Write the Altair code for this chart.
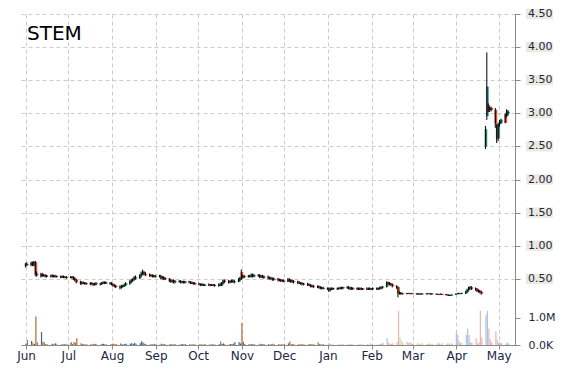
import altair as alt
import numpy as np
import pandas as pd

ticker = "STEM"
first_day = "2023-06-01"
last_day = "2024-05-08"

# one row per week (Mon-Fri), prices in $
opens = [
    0.70, 0.72,
    0.71, 0.74, 0.71, 0.75, 0.57,
    0.54, 0.57, 0.55, 0.55, 0.54,
    0.54, 0.54, 0.55, 0.53, 0.54,
    0.53, 0.53, 0.52, 0.53, 0.52,
    0.52, 0.53, 0.52, 0.50, 0.48,
    0.45, 0.43, 0.44, 0.43, 0.43,
    0.42, 0.43, 0.42, 0.41, 0.43,
    0.42, 0.42, 0.44, 0.45, 0.44,
    0.43, 0.43, 0.41, 0.40, 0.39,
    0.38, 0.37, 0.39, 0.39, 0.41,
    0.43, 0.46, 0.48, 0.49, 0.52,
    0.51, 0.55, 0.58, 0.60, 0.57,
    0.56, 0.55, 0.54, 0.55, 0.53,
    0.54, 0.54, 0.51, 0.52, 0.50,
    0.50, 0.47, 0.46, 0.47, 0.45,
    0.46, 0.46, 0.45, 0.46, 0.44,
    0.46, 0.45, 0.44, 0.43, 0.43,
    0.42, 0.42, 0.41, 0.41, 0.40,
    0.41, 0.41, 0.40, 0.41, 0.40,
    0.40, 0.41, 0.40, 0.43, 0.47,
    0.46, 0.45, 0.46, 0.47, 0.45,
    0.46, 0.49, 0.60, 0.52, 0.54,
    0.53, 0.54, 0.54, 0.56, 0.54,
    0.55, 0.55, 0.53, 0.54, 0.52,
    0.53, 0.51, 0.51, 0.50, 0.49,
    0.50, 0.48, 0.48, 0.47, 0.47,
    0.46, 0.49, 0.47, 0.47, 0.45,
    0.46, 0.44, 0.43, 0.43, 0.42,
    0.42, 0.41, 0.40, 0.39, 0.39,
    0.38, 0.38, 0.37, 0.36, 0.36,
    0.35, 0.35, 0.33, 0.35, 0.35,
    0.35, 0.35, 0.36, 0.36, 0.37,
    0.36, 0.37, 0.36, 0.35, 0.36,
    0.35, 0.35, 0.34, 0.35, 0.35,
    0.34, 0.35, 0.35, 0.34, 0.35,
    0.35, 0.35, 0.35, 0.36, 0.37,
    0.38, 0.44, 0.43, 0.42, 0.41,
    0.39, 0.37, 0.28, 0.28, 0.28,
    0.27, 0.28, 0.28, 0.27, 0.28,
    0.27, 0.27, 0.27, 0.27, 0.27,
    0.27, 0.27, 0.28, 0.27, 0.27,
    0.27, 0.27, 0.26, 0.27, 0.27,
    0.26, 0.26, 0.25, 0.25, 0.25,
    0.26, 0.27, 0.28, 0.27, 0.28,
    0.28, 0.30, 0.33, 0.36, 0.37,
    0.35, 0.34, 0.32, 0.31, 0.30,
    2.50, 2.96, 3.12, 3.06, 3.08,
    3.05, 2.82, 2.62, 2.84, 2.86,
    2.98, 2.96, 3.00,
]
highs = [
    0.74, 0.75,
    0.76, 0.76, 0.77, 0.77, 0.61,
    0.59, 0.59, 0.57, 0.57, 0.56,
    0.56, 0.57, 0.56, 0.56, 0.55,
    0.55, 0.55, 0.55, 0.54, 0.54,
    0.54, 0.54, 0.54, 0.52, 0.50,
    0.47, 0.46, 0.46, 0.45, 0.45,
    0.45, 0.45, 0.44, 0.44, 0.45,
    0.44, 0.45, 0.46, 0.46, 0.46,
    0.45, 0.45, 0.43, 0.42, 0.41,
    0.40, 0.41, 0.41, 0.43, 0.45,
    0.48, 0.50, 0.51, 0.54, 0.55,
    0.57, 0.61, 0.64, 0.62, 0.60,
    0.58, 0.57, 0.57, 0.56, 0.56,
    0.56, 0.56, 0.54, 0.54, 0.52,
    0.51, 0.49, 0.49, 0.49, 0.48,
    0.48, 0.48, 0.47, 0.47, 0.47,
    0.47, 0.46, 0.46, 0.45, 0.45,
    0.44, 0.43, 0.43, 0.43, 0.42,
    0.43, 0.42, 0.42, 0.42, 0.42,
    0.43, 0.44, 0.45, 0.49, 0.49,
    0.48, 0.48, 0.49, 0.49, 0.48,
    0.51, 0.53, 0.64, 0.56, 0.56,
    0.56, 0.56, 0.58, 0.58, 0.57,
    0.57, 0.57, 0.56, 0.56, 0.55,
    0.55, 0.53, 0.53, 0.52, 0.52,
    0.51, 0.50, 0.50, 0.49, 0.49,
    0.51, 0.51, 0.49, 0.49, 0.48,
    0.47, 0.46, 0.45, 0.45, 0.44,
    0.44, 0.43, 0.42, 0.41, 0.41,
    0.40, 0.40, 0.39, 0.38, 0.38,
    0.37, 0.37, 0.37, 0.37, 0.37,
    0.37, 0.37, 0.38, 0.38, 0.38,
    0.39, 0.39, 0.38, 0.38, 0.37,
    0.37, 0.37, 0.37, 0.37, 0.36,
    0.37, 0.37, 0.37, 0.36, 0.37,
    0.37, 0.37, 0.38, 0.39, 0.39,
    0.46, 0.46, 0.45, 0.44, 0.43,
    0.40, 0.38, 0.31, 0.30, 0.29,
    0.28, 0.28, 0.28, 0.28, 0.28,
    0.28, 0.28, 0.28, 0.27, 0.28,
    0.28, 0.28, 0.28, 0.27, 0.28,
    0.27, 0.27, 0.27, 0.27, 0.27,
    0.27, 0.26, 0.26, 0.26, 0.26,
    0.28, 0.28, 0.29, 0.28, 0.28,
    0.32, 0.35, 0.38, 0.39, 0.39,
    0.37, 0.36, 0.34, 0.33, 0.32,
    2.81, 3.92, 3.15, 3.10, 3.10,
    3.08, 2.84, 2.86, 2.90, 2.92,
    3.00, 3.06, 3.05,
]
lows = [
    0.67, 0.69,
    0.69, 0.69, 0.69, 0.54, 0.53,
    0.52, 0.53, 0.53, 0.52, 0.52,
    0.52, 0.52, 0.52, 0.52, 0.52,
    0.51, 0.51, 0.51, 0.51, 0.50,
    0.51, 0.50, 0.48, 0.46, 0.43,
    0.41, 0.41, 0.42, 0.41, 0.41,
    0.40, 0.41, 0.39, 0.40, 0.40,
    0.40, 0.41, 0.42, 0.42, 0.42,
    0.41, 0.40, 0.38, 0.37, 0.36,
    0.34, 0.35, 0.37, 0.38, 0.39,
    0.41, 0.44, 0.45, 0.47, 0.49,
    0.50, 0.53, 0.56, 0.55, 0.54,
    0.53, 0.53, 0.52, 0.52, 0.52,
    0.52, 0.49, 0.49, 0.48, 0.48,
    0.45, 0.44, 0.44, 0.43, 0.43,
    0.44, 0.43, 0.43, 0.43, 0.43,
    0.43, 0.42, 0.42, 0.41, 0.41,
    0.40, 0.39, 0.39, 0.39, 0.39,
    0.39, 0.39, 0.39, 0.39, 0.38,
    0.38, 0.39, 0.39, 0.42, 0.44,
    0.43, 0.43, 0.44, 0.44, 0.43,
    0.45, 0.46, 0.48, 0.50, 0.51,
    0.52, 0.52, 0.52, 0.52, 0.52,
    0.53, 0.51, 0.51, 0.51, 0.50,
    0.49, 0.49, 0.48, 0.47, 0.47,
    0.46, 0.46, 0.45, 0.45, 0.45,
    0.45, 0.45, 0.44, 0.44, 0.43,
    0.42, 0.42, 0.41, 0.40, 0.40,
    0.39, 0.39, 0.37, 0.37, 0.36,
    0.36, 0.35, 0.34, 0.34, 0.34,
    0.33, 0.30, 0.31, 0.33, 0.33,
    0.33, 0.34, 0.34, 0.34, 0.34,
    0.35, 0.34, 0.33, 0.33, 0.33,
    0.33, 0.33, 0.33, 0.33, 0.33,
    0.33, 0.33, 0.33, 0.33, 0.33,
    0.33, 0.33, 0.34, 0.34, 0.35,
    0.37, 0.41, 0.40, 0.39, 0.37,
    0.35, 0.22, 0.26, 0.26, 0.26,
    0.27, 0.27, 0.27, 0.27, 0.27,
    0.27, 0.26, 0.27, 0.26, 0.27,
    0.27, 0.27, 0.27, 0.26, 0.27,
    0.26, 0.26, 0.26, 0.26, 0.26,
    0.25, 0.25, 0.24, 0.24, 0.25,
    0.26, 0.27, 0.27, 0.27, 0.27,
    0.27, 0.29, 0.32, 0.34, 0.33,
    0.32, 0.30, 0.29, 0.28, 0.26,
    2.46, 2.90, 3.02, 3.02, 3.03,
    2.78, 2.55, 2.58, 2.80, 2.84,
    2.85, 2.94, 2.97,
]
closes = [
    0.72, 0.71,
    0.74, 0.71, 0.75, 0.57, 0.56,
    0.57, 0.55, 0.55, 0.54, 0.54,
    0.54, 0.55, 0.53, 0.54, 0.53,
    0.53, 0.52, 0.53, 0.52, 0.52,
    0.53, 0.52, 0.50, 0.48, 0.45,
    0.43, 0.44, 0.43, 0.43, 0.42,
    0.43, 0.42, 0.41, 0.43, 0.42,
    0.42, 0.44, 0.45, 0.44, 0.43,
    0.43, 0.41, 0.40, 0.39, 0.38,
    0.37, 0.39, 0.39, 0.41, 0.43,
    0.46, 0.48, 0.49, 0.52, 0.51,
    0.55, 0.58, 0.60, 0.57, 0.56,
    0.55, 0.54, 0.55, 0.53, 0.54,
    0.54, 0.51, 0.52, 0.50, 0.50,
    0.47, 0.46, 0.47, 0.45, 0.46,
    0.46, 0.45, 0.46, 0.44, 0.46,
    0.45, 0.44, 0.43, 0.43, 0.42,
    0.42, 0.41, 0.41, 0.40, 0.41,
    0.41, 0.40, 0.41, 0.40, 0.40,
    0.41, 0.40, 0.43, 0.47, 0.46,
    0.45, 0.46, 0.47, 0.45, 0.46,
    0.49, 0.51, 0.52, 0.54, 0.53,
    0.54, 0.54, 0.56, 0.54, 0.55,
    0.55, 0.53, 0.54, 0.52, 0.53,
    0.51, 0.51, 0.50, 0.49, 0.50,
    0.48, 0.48, 0.47, 0.47, 0.46,
    0.49, 0.47, 0.47, 0.45, 0.46,
    0.44, 0.43, 0.43, 0.42, 0.42,
    0.41, 0.40, 0.39, 0.39, 0.38,
    0.38, 0.37, 0.36, 0.36, 0.35,
    0.35, 0.33, 0.35, 0.35, 0.35,
    0.35, 0.36, 0.36, 0.37, 0.36,
    0.37, 0.36, 0.35, 0.36, 0.35,
    0.35, 0.34, 0.35, 0.35, 0.34,
    0.35, 0.35, 0.34, 0.35, 0.35,
    0.35, 0.35, 0.36, 0.37, 0.38,
    0.44, 0.43, 0.42, 0.41, 0.39,
    0.37, 0.28, 0.28, 0.28, 0.27,
    0.28, 0.28, 0.27, 0.28, 0.27,
    0.27, 0.27, 0.27, 0.27, 0.27,
    0.27, 0.28, 0.27, 0.27, 0.27,
    0.27, 0.26, 0.27, 0.27, 0.26,
    0.26, 0.25, 0.25, 0.25, 0.26,
    0.27, 0.28, 0.27, 0.28, 0.28,
    0.30, 0.33, 0.36, 0.37, 0.35,
    0.34, 0.32, 0.31, 0.30, 0.28,
    2.76, 3.40, 3.06, 3.08, 3.05,
    2.85, 2.62, 2.84, 2.86, 2.90,
    2.86, 3.03, 3.02,
]
# daily volume, millions of shares
volumes_m = [
    0.05, 0.18,
    0.15, 0.06, 0.04, 1.04, 0.10,
    0.47, 0.12, 0.10, 0.04, 0.03,
    0.02, 0.05, 0.03, 0.06, 0.02,
    0.03, 0.02, 0.04, 0.02, 0.03,
    0.10, 0.04, 0.11, 0.08, 0.25,
    0.06, 0.03, 0.04, 0.02, 0.03,
    0.03, 0.02, 0.05, 0.04, 0.02,
    0.02, 0.04, 0.05, 0.03, 0.02,
    0.03, 0.04, 0.05, 0.03, 0.04,
    0.06, 0.03, 0.02, 0.04, 0.05,
    0.05, 0.06, 0.04, 0.08, 0.05,
    0.06, 0.14, 0.08, 0.05, 0.04,
    0.03, 0.02, 0.03, 0.04, 0.02,
    0.02, 0.05, 0.03, 0.04, 0.02,
    0.04, 0.03, 0.02, 0.03, 0.02,
    0.02, 0.03, 0.04, 0.02, 0.03,
    0.03, 0.02, 0.02, 0.03, 0.02,
    0.02, 0.03, 0.02, 0.02, 0.03,
    0.02, 0.02, 0.03, 0.02, 0.02,
    0.03, 0.13, 0.04, 0.06, 0.03,
    0.02, 0.04, 0.03, 0.05, 0.10,
    0.10, 0.06, 0.80, 0.12, 0.04,
    0.03, 0.02, 0.04, 0.03, 0.02,
    0.02, 0.05, 0.03, 0.04, 0.02,
    0.04, 0.02, 0.03, 0.05, 0.02,
    0.03, 0.02, 0.03, 0.02, 0.04,
    0.06, 0.13, 0.03, 0.04, 0.02,
    0.03, 0.02, 0.04, 0.02, 0.03,
    0.02, 0.03, 0.04, 0.02, 0.03,
    0.10, 0.04, 0.03, 0.02, 0.03,
    0.02, 0.06, 0.04, 0.03, 0.02,
    0.02, 0.03, 0.02, 0.04, 0.02,
    0.03, 0.02, 0.04, 0.03, 0.02,
    0.02, 0.03, 0.02, 0.03, 0.02,
    0.03, 0.02, 0.06, 0.03, 0.02,
    0.02, 0.03, 0.04, 0.05, 0.08,
    0.25, 0.08, 0.05, 0.04, 0.06,
    0.10, 1.25, 0.28, 0.17, 0.08,
    0.12, 0.08, 0.10, 0.06, 0.05,
    0.05, 0.07, 0.04, 0.06, 0.05,
    0.04, 0.05, 0.06, 0.04, 0.05,
    0.03, 0.08, 0.05, 0.04, 0.06,
    0.05, 0.06, 0.04, 0.07, 0.05,
    0.47, 0.37, 0.15, 0.06, 0.08,
    0.37, 0.60, 0.37, 0.10, 0.08,
    0.25, 0.06, 0.10, 1.25, 0.28,
    1.10, 1.25, 0.60, 0.20, 0.10,
    0.50, 0.18, 0.08, 0.10, 0.06,
    0.05, 0.08, 0.06,
]

price_ticks = [0.5, 1.0, 1.5, 2.0, 2.5, 3.0, 3.5, 4.0, 4.5]
volume_ticks = [0, 1]
month_ticks = [(2023, 6), (2023, 7), (2023, 8), (2023, 9), (2023, 10), (2023, 11),
               (2023, 12), (2024, 1), (2024, 2), (2024, 3), (2024, 4), (2024, 5)]
pale_from = "2024-01-01"

dates = pd.bdate_range(first_day, last_day)
n = len(dates)
assert n == len(opens) == len(highs) == len(lows) == len(closes) == len(volumes_m), (
    n, len(opens), len(highs), len(lows), len(closes), len(volumes_m))

df = pd.DataFrame({"date": dates, "open": opens, "high": highs, "low": lows,
                   "close": closes, "vol": volumes_m})
df["dir"] = np.where(df["close"] > df["open"], "up",
                     np.where(df["close"] < df["open"], "down", "flat"))
df["era"] = np.where(df["date"] >= pd.Timestamp(pale_from), "pale", "dark")
df["vcls"] = df["era"] + "-" + df["dir"]

price_df = pd.DataFrame({"p": price_ticks, "label": [f"{v:.2f}" for v in price_ticks]})

W, H = 494, 331
LABEL_FONT = "DejaVu Sans"
LABEL_COLOR = "#1b2645"
AXIS_GRAY = "#8a8a8a"
GRID = "#cccccc"

x_scale = alt.Scale(domain=[alt.DateTime(year=2023, month=6, date=1),
                            alt.DateTime(year=2024, month=5, date=9)])
price_scale = alt.Scale(domain=[-0.5, 4.5], nice=False, zero=False)
vol_scale = alt.Scale(domain=[0, 12.1], nice=False)

x_axis = alt.Axis(values=[alt.DateTime(year=y, month=m, date=1) for y, m in month_ticks],
                  format="%b", grid=True, gridDash=[4, 3], gridColor=GRID,
                  tickSize=4, tickColor=AXIS_GRAY, domainColor=AXIS_GRAY,
                  labelFlush=False, labelFont=LABEL_FONT, labelFontSize=12,
                  labelColor=LABEL_COLOR, labelPadding=1, title=None)
price_axis = alt.Axis(orient="right", values=price_ticks, labels=False, grid=True,
                      gridDash=[4, 3], gridColor=GRID, tickSize=5,
                      tickColor=AXIS_GRAY, domainColor=AXIS_GRAY, title=None)
vol_axis = alt.Axis(orient="right", values=volume_ticks, grid=False, tickSize=5,
                    tickColor=AXIS_GRAY, domainColor=AXIS_GRAY,
                    labelExpr="datum.value >= 1 ? format(datum.value, '.1f') + 'M' : format(datum.value * 1000, '.1f') + 'K'",
                    labelFont=LABEL_FONT, labelFontSize=11, labelColor=LABEL_COLOR,
                    labelPadding=8, title=None)

candle_colors = alt.Scale(domain=["up", "down", "flat"], range=["#0fb052", "#e8141c", "#000000"])
vol_colors = alt.Scale(
    domain=["dark-up", "dark-down", "dark-flat", "pale-up", "pale-down", "pale-flat"],
    range=["#3f5f95", "#b8692f", "#7c8f4a", "#aec2de", "#ecb4aa", "#dadca4"])

X = alt.X("date:T", scale=x_scale, axis=x_axis)

volume = alt.Chart(df).mark_bar(width=1.2).encode(
    x=X,
    y=alt.Y("vol:Q", scale=vol_scale, axis=vol_axis),
    color=alt.Color("vcls:N", scale=vol_colors, legend=None),
)

bodies = alt.Chart(df).mark_bar(width=2.0, strokeWidth=0.5).encode(
    x=X,
    y=alt.Y("open:Q", scale=price_scale, axis=price_axis),
    y2="close:Q",
    color=alt.Color("dir:N", scale=candle_colors, legend=None),
    stroke=alt.Stroke("dir:N", scale=candle_colors, legend=None),
)

wicks = alt.Chart(df).mark_rule(color="black", strokeWidth=1, xOffset=-0.6).encode(
    x=X,
    y=alt.Y("low:Q", scale=price_scale, axis=price_axis),
    y2="high:Q",
)

label_bg = alt.Chart(price_df).transform_calculate(
    lo="datum.p - 0.078", hi="datum.p + 0.078"
).mark_rect(color="#eceadf").encode(
    x=alt.value(W + 11), x2=alt.value(W + 38),
    y=alt.Y("lo:Q", scale=price_scale, axis=price_axis),
    y2="hi:Q",
)

labels = alt.Chart(price_df).mark_text(
    align="left", baseline="middle", font=LABEL_FONT, fontSize=11, color=LABEL_COLOR
).encode(
    x=alt.value(W + 13),
    y=alt.Y("p:Q", scale=price_scale, axis=price_axis),
    text="label:N",
)

title = alt.Chart(pd.DataFrame({"name": [ticker]})).mark_text(
    align="left", baseline="alphabetic", font="DejaVu Sans", fontSize=20, color="black"
).encode(x=alt.value(6), y=alt.value(25.5), text="name:N")

price_layer = alt.layer(bodies, wicks, label_bg, labels, title)

chart = alt.layer(volume, price_layer).resolve_scale(y="independent").properties(
    width=W, height=H,
    padding={"left": 13, "top": 6, "right": 45, "bottom": 20},
    autosize=alt.AutoSizeParams(type="none"),
).configure_view(stroke=None)

chart.save("out.html", embed_options={"renderer": "svg", "actions": False})
